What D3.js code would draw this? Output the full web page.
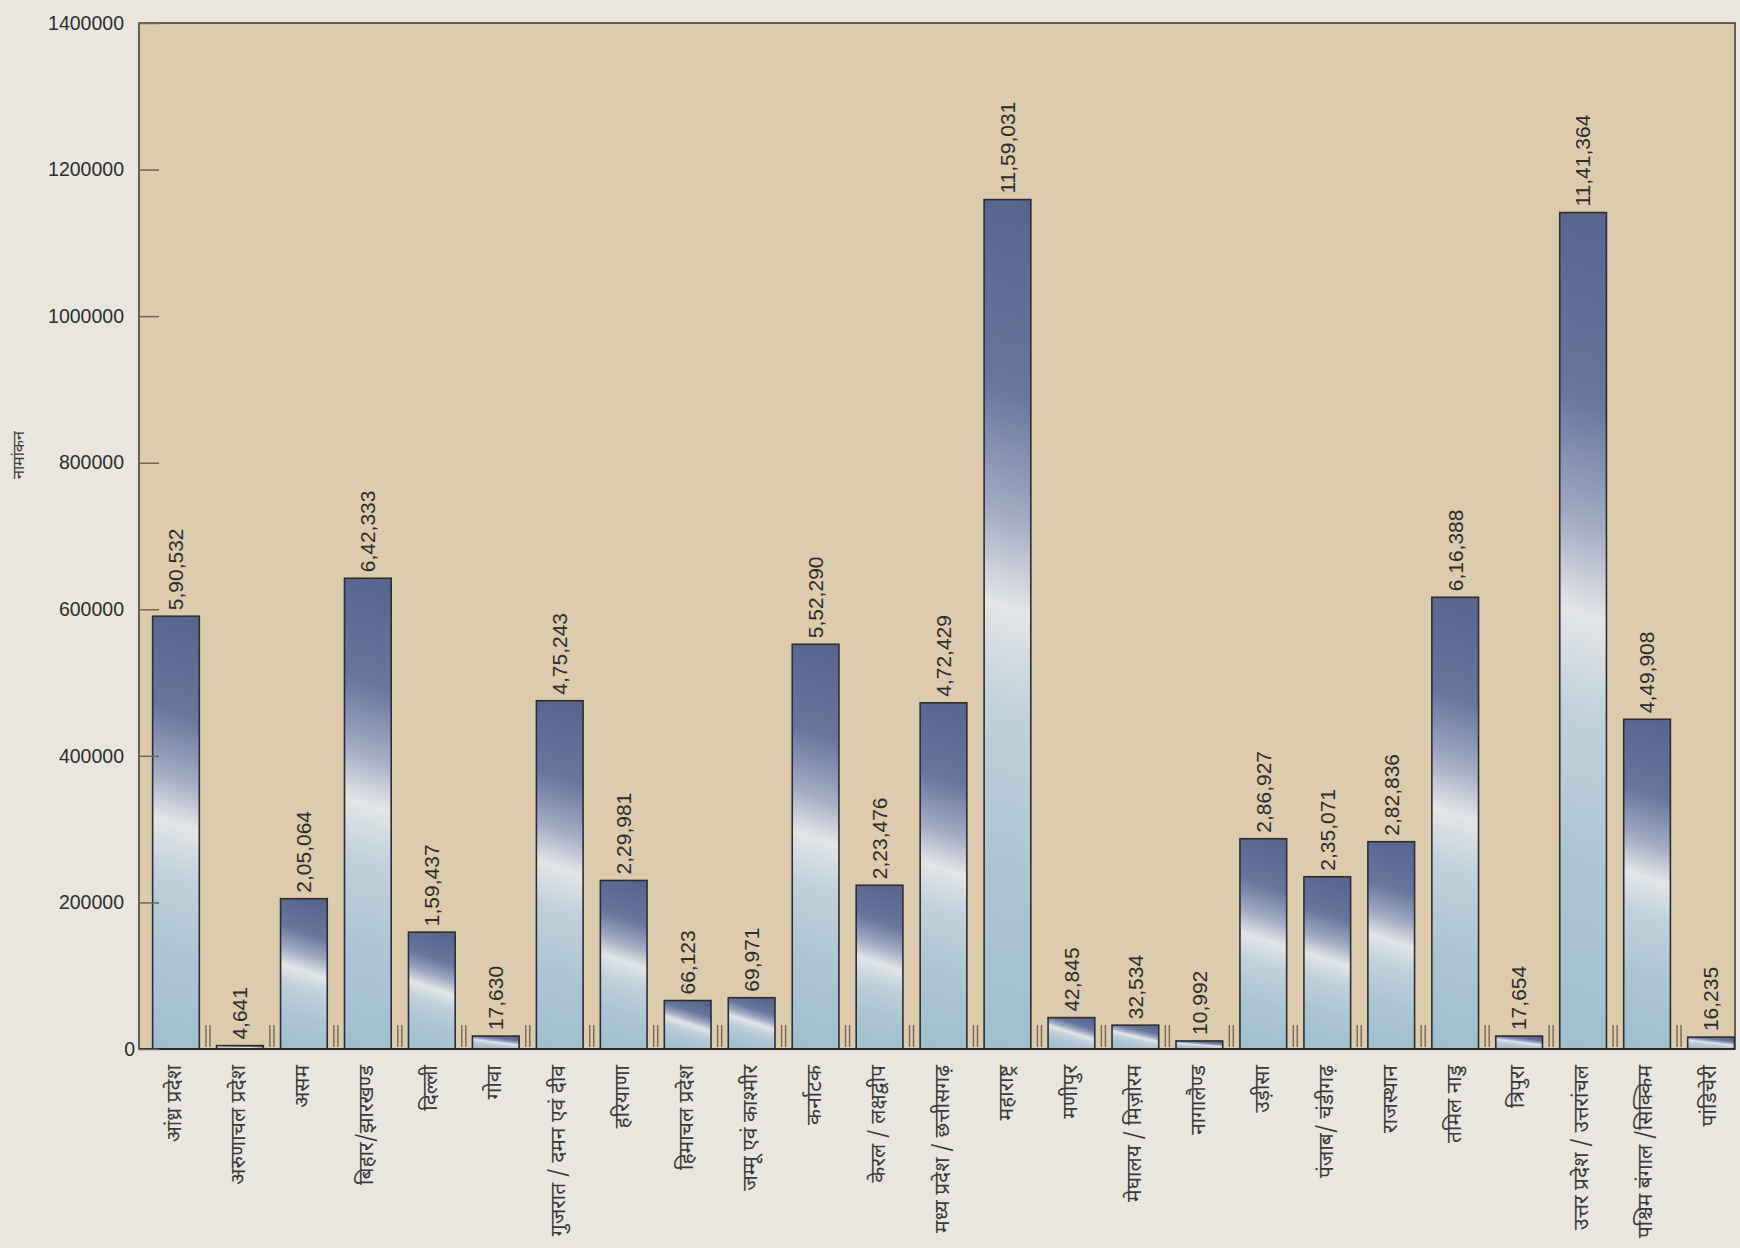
<!DOCTYPE html>
<html>
<head>
<meta charset="utf-8">
<script src="https://cdn.jsdelivr.net/npm/d3@7"></script>
<style>
  html, body { margin: 0; padding: 0; background: #e8e6de; }
  svg { display: block; }
</style>
</head>
<body>
<svg id="chart" width="1740" height="1248"></svg>
<script>
// State-wise enrolment
const states = [
  "आंध्र प्रदेश", "अरुणाचल प्रदेश", "असम", "बिहार/झारखण्ड", "दिल्ली",
  "गोवा", "गुजरात / दमन एवं दीव", "हरियाणा", "हिमाचल प्रदेश", "जम्मू एवं काश्मीर",
  "कर्नाटक", "केरल / लक्षद्वीप", "मध्य प्रदेश / छत्तीसगढ़", "महाराष्ट्र", "मणीपुर",
  "मेघालय / मिज़ोरम", "नागालैण्ड", "उड़ीसा", "पंजाब/ चंडीगढ़", "राजस्थान",
  "तमिल नाडु", "त्रिपुरा", "उत्तर प्रदेश / उत्तरांचल", "पश्चिम बंगाल /सिक्किम", "पांडिचेरी"
];
const enrolment = [
  590532, 4641, 205064, 642333, 159437,
  17630, 475243, 229981, 66123, 69971,
  552290, 223476, 472429, 1159031, 42845,
  32534, 10992, 286927, 235071, 282836,
  616388, 17654, 1141364, 449908, 16235
];
const yTicks = [0, 200000, 400000, 600000, 800000, 1000000, 1200000, 1400000];
const yTitle = "नामांकन";

const latinFont = "'Liberation Sans', Arial, Helvetica, sans-serif";
const hindiFont = "'Noto Sans Devanagari', 'Lohit Devanagari', 'Noto Sans', 'FreeSans', sans-serif";

const frame = { left: 139, right: 1735, top: 23, bottom: 1049 };
const svg = d3.select("#chart");

const x = d3.scaleBand()
  .domain(states)
  .range([144, 1743])
  .paddingInner(0.27)
  .paddingOuter(0.135);

const y = d3.scaleLinear()
  .domain([0, 1400000])
  .range([frame.bottom, frame.top]);

// Indian digit grouping: 5,90,532
const inFormat = d3.formatLocale({ decimal: ".", thousands: ",", grouping: [3, 2], currency: ["₹", ""] }).format(",d");

// plot background
svg.append("rect")
  .attr("x", frame.left).attr("y", frame.top)
  .attr("width", frame.right - frame.left)
  .attr("height", frame.bottom - frame.top)
  .attr("fill", "#ddcbae");

// one gradient per bar so the light streak keeps the same tilt at any height
const defs = svg.append("defs");
const stopColors = [
  [0.00, "#56668e"],
  [0.22, "#66769d"],
  [0.37, "#a2abc2"],
  [0.48, "#e3e5e7"],
  [0.60, "#c0d1db"],
  [0.78, "#adc5d3"],
  [1.00, "#a2bfcf"]
];
defs.selectAll("linearGradient")
  .data(enrolment)
  .join("linearGradient")
  .attr("id", (d, i) => "barFill" + i)
  .each(function (d) {
    const h = Math.max(y(0) - y(d), 1);
    const g = Math.min(0.45, 0.32 * x.bandwidth() / h);
    d3.select(this)
      .attr("x1", 0.5 + g / 2).attr("y1", 0)
      .attr("x2", 0.5 - g / 2).attr("y2", 1);
    d3.select(this).selectAll("stop")
      .data(stopColors)
      .join("stop")
      .attr("offset", s => s[0])
      .attr("stop-color", s => s[1]);
  });

// bars
svg.append("g")
  .selectAll("rect")
  .data(enrolment)
  .join("rect")
  .attr("x", (d, i) => x(states[i]))
  .attr("y", d => y(d))
  .attr("width", x.bandwidth())
  .attr("height", d => y(0) - y(d))
  .attr("fill", (d, i) => `url(#barFill${i})`)
  .attr("stroke", "#2c2d36")
  .attr("stroke-width", 1.6);

// small category separators rising from the baseline
const seps = states.slice(1).map(s => x(s) - x.step() * x.paddingInner() / 2);
const sepG = svg.append("g").attr("stroke", "#6f6858").attr("stroke-width", 1.4);
sepG.selectAll("line.a")
  .data(seps)
  .join("line")
  .attr("class", "a")
  .attr("x1", d => d - 2).attr("x2", d => d - 2)
  .attr("y1", frame.bottom - 24).attr("y2", frame.bottom - 2);
sepG.selectAll("line.b")
  .data(seps)
  .join("line")
  .attr("class", "b")
  .attr("x1", d => d + 2).attr("x2", d => d + 2)
  .attr("y1", frame.bottom - 24).attr("y2", frame.bottom - 2);

// frame
svg.append("rect")
  .attr("x", frame.left).attr("y", frame.top)
  .attr("width", frame.right - frame.left)
  .attr("height", frame.bottom - frame.top)
  .attr("fill", "none")
  .attr("stroke", "#3a3836")
  .attr("stroke-width", 1.5);
svg.append("line")
  .attr("x1", frame.left).attr("x2", frame.right)
  .attr("y1", frame.bottom).attr("y2", frame.bottom)
  .attr("stroke", "#2a2a2a").attr("stroke-width", 2.2);

// y axis: ticks point into the plot
const yAxis = d3.axisLeft(y)
  .tickValues(yTicks)
  .tickFormat(d3.format("d"))
  .tickSizeInner(-20)
  .tickSizeOuter(0)
  .tickPadding(15);
const yg = svg.append("g")
  .attr("transform", `translate(${frame.left},0)`)
  .call(yAxis);
yg.select(".domain").remove();
yg.selectAll(".tick line").attr("stroke", "#6b655c").attr("stroke-width", 1.5);
yg.selectAll(".tick text")
  .attr("fill", "#2e2e2e")
  .attr("font-family", latinFont)
  .attr("font-size", 19.5)
  .attr("x", d => d === 0 ? -4 : -15);

// axis title
svg.append("text")
  .attr("transform", "translate(18,455) rotate(-90)")
  .attr("text-anchor", "middle")
  .attr("dy", "0.35em")
  .attr("font-family", hindiFont)
  .attr("font-size", 16)
  .attr("fill", "#3a3a3a")
  .text(yTitle);

// value labels above bars
svg.append("g")
  .selectAll("text")
  .data(enrolment)
  .join("text")
  .attr("transform", (d, i) => `translate(${x(states[i]) + x.bandwidth() / 2},${y(d) - 6}) rotate(-90)`)
  .attr("text-anchor", "start")
  .attr("dy", "0.35em")
  .attr("font-family", latinFont)
  .attr("font-size", 21)
  .attr("fill", "#2e2e2e")
  .text(d => inFormat(d));

// category labels under the axis
svg.append("g")
  .selectAll("text")
  .data(states)
  .join("text")
  .attr("transform", d => `translate(${x(d) + x.bandwidth() / 2 - 2},${frame.bottom + 16}) rotate(-90)`)
  .attr("text-anchor", "end")
  .attr("dy", "0.35em")
  .attr("font-family", hindiFont)
  .attr("font-size", 21)
  .attr("fill", "#3a3a3a")
  .text(d => d);
</script>
</body>
</html>
